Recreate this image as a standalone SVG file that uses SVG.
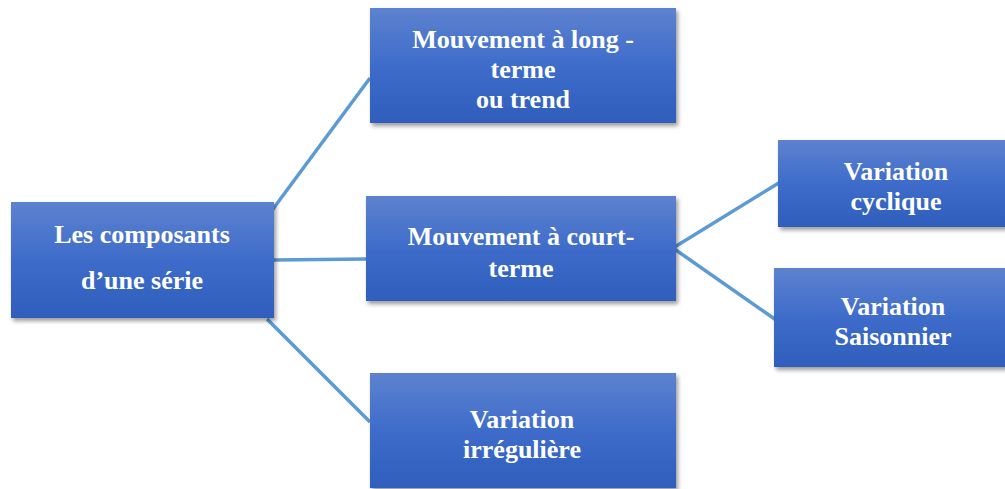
<svg xmlns="http://www.w3.org/2000/svg" width="1005" height="489" viewBox="0 0 1005 489">
<defs>
<linearGradient id="g" x1="0" y1="0" x2="0" y2="1">
<stop offset="0" stop-color="#5d82cf"/>
<stop offset="0.5" stop-color="#3e6cca"/>
<stop offset="1" stop-color="#2f5ebc"/>
</linearGradient>
<filter id="sh" x="-10%" y="-10%" width="130%" height="140%">
<feDropShadow dx="2" dy="3" stdDeviation="2" flood-color="#000" flood-opacity="0.4"/>
</filter>
<style>
.box{fill:url(#g);filter:url(#sh);}
.t{font-family:"Liberation Serif","Times New Roman",serif;font-weight:bold;font-size:26px;fill:#fff;text-anchor:middle;}
.c{stroke:#5b9bd5;stroke-width:3.5;fill:none;}
</style>
</defs>
<rect width="1005" height="489" fill="#fff"/>
<g id="connectors">
<line class="c" x1="270" y1="213" x2="370" y2="78"/>
<line class="c" x1="274" y1="260" x2="366" y2="259"/>
<line class="c" x1="267" y1="319" x2="370" y2="422"/>
<line class="c" x1="673" y1="248" x2="782" y2="181"/>
<line class="c" x1="673" y1="248" x2="776" y2="320"/>
</g>
<g id="node-composants">
<rect class="box" x="11" y="202" width="263" height="116"/>
<text class="t" x="142" y="243">Les composants</text>
<text class="t" x="142" y="289">d’une série</text>
</g>
<g id="node-long-terme">
<rect class="box" x="370" y="8" width="306" height="115"/>
<text class="t" x="523" y="48">Mouvement à long -</text>
<text class="t" x="523" y="78">terme</text>
<text class="t" x="523" y="108">ou trend</text>
</g>
<g id="node-court-terme">
<rect class="box" x="366" y="196" width="310" height="105"/>
<text class="t" x="521" y="245">Mouvement à court-</text>
<text class="t" x="521" y="277">terme</text>
</g>
<g id="node-irreguliere">
<rect class="box" x="370" y="373" width="306" height="115"/>
<text class="t" x="522" y="428">Variation</text>
<text class="t" x="522" y="458">irrégulière</text>
</g>
<g id="node-cyclique">
<rect class="box" x="778" y="140" width="236" height="87"/>
<text class="t" x="896" y="180">Variation</text>
<text class="t" x="896" y="210">cyclique</text>
</g>
<g id="node-saisonnier">
<rect class="box" x="774" y="268" width="238" height="99"/>
<text class="t" x="893" y="315">Variation</text>
<text class="t" x="893" y="345">Saisonnier</text>
</g>
</svg>
